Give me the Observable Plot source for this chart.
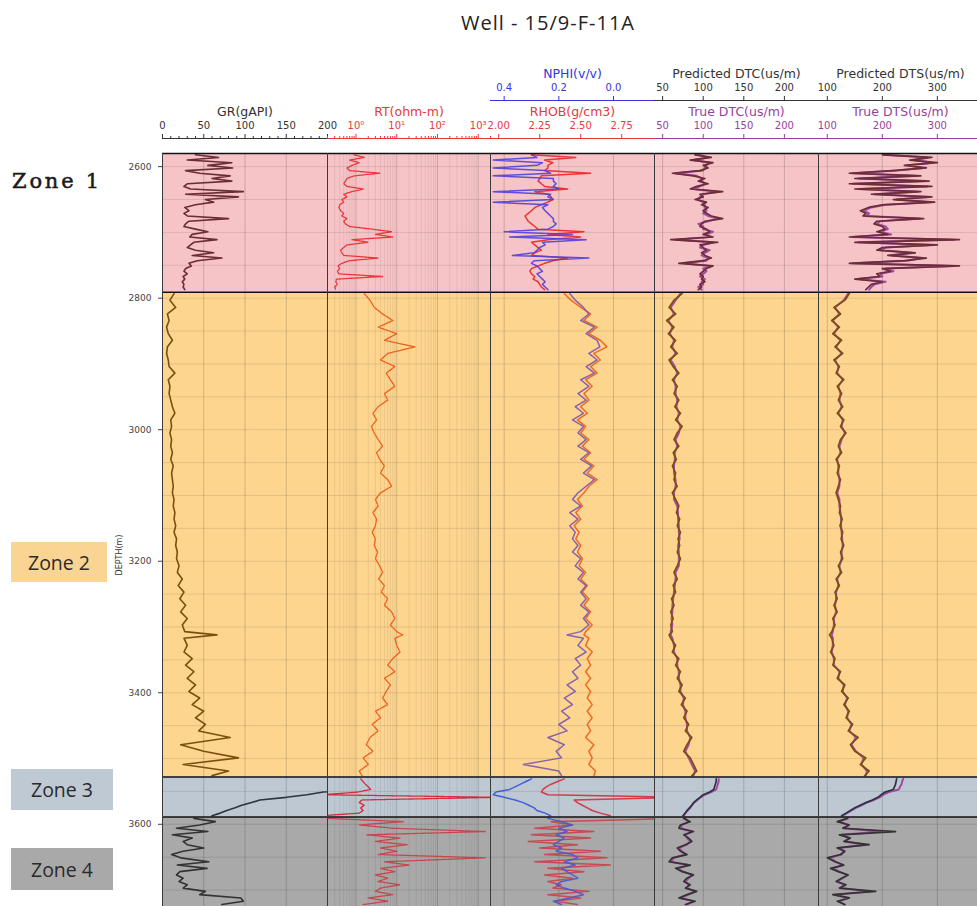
<!DOCTYPE html>
<html>
<head>
<meta charset="utf-8">
<script src="https://cdn.jsdelivr.net/npm/d3@7"></script>
<script src="https://cdn.jsdelivr.net/npm/@observablehq/plot@0.6"></script>
<style>
  html, body { margin: 0; padding: 0; background: #fff; overflow: hidden; }
  #root { position: relative; width: 977px; height: 906px; overflow: hidden; background: #fff; font-family: "DejaVu Sans", sans-serif; }
  .zone-box { position: absolute; display: flex; align-items: center; justify-content: center; font-family: "Open Sans", "Noto Sans", sans-serif; font-size: 19.5px; color: #2a2a2a; }
</style>
</head>
<body>
<div id="root"></div>
<script>
// ---------------- DATA ----------------
const depth = [
  2582,2586,2590,2594,2598,2602,2606,2610,2614,2618,2622,2626,2630,2634,2638,2642,2646,2650,2654,2658,
  2662,2667,2671,2675,2679,2683,2687,2691,2695,2699,2703,2707,2711,2715,2719,2723,2727,2731,2735,2739,
  2743,2747,2751,2755,2759,2763,2767,2771,2775,2779,2783,2787,
  2793,2803,2814,2824,2834,2844,2854,2864,2874,2884,2894,2904,2914,2924,2934,2945,2955,2965,2975,2985,
  2995,3005,3015,3025,3035,3045,3055,3066,3076,3086,3096,3106,3116,3126,3136,3146,3156,3166,3176,3186,
  3196,3207,3217,3227,3237,3247,3257,3267,3277,3287,3297,3307,3312,3317,3328,3338,3348,3358,3368,3378,
  3388,3398,3408,3418,3428,3438,3448,3458,3468,3479,3489,3499,3509,3519,3526,
  3531,3535,3539,3543,3547,3551,3555,3559,3563,3567,3571,3575,3579,3583,3587,
  3591,3596,3601,3606,3611,3616,3621,3626,3631,3636,3641,3646,3651,3657,3662,3667,3672,3677,3682,3687,
  3692,3697,3702,3707,3712,3717,3722
];
const gr = [
  40,68,30,84,55,85,28,45,82,60,84,30,26,34,98,28,92,52,62,40,
  27,32,26,30,80,32,28,26,40,55,36,33,66,38,34,30,40,62,36,72,
  42,32,35,28,26,30,25,27,24,26,25,27,
  14,9,16,6,8,5,7,12,6,5,7,8,15,7,9,8,10,12,15,10,
  11,9,11,10,12,10,13,11,12,13,12,14,13,15,14,16,14,17,16,18,
  17,20,18,24,19,26,21,28,22,30,24,27,66,26,30,26,36,28,38,30,
  40,32,45,36,50,40,52,44,82,22,50,92,25,80,60,
  230,240,235,238,225,195,175,150,118,108,96,88,78,70,60,
  38,64,45,17,55,12,36,25,30,50,25,11,22,56,18,54,21,17,25,20,
  30,25,52,45,95,98,72
];
const rt = [
  0.9,1.6,0.7,1.2,0.8,0.6,0.7,3.8,0.9,0.6,0.55,0.5,0.6,1.5,0.8,0.5,0.6,0.45,0.5,0.4,
  0.38,0.42,0.5,0.45,0.6,0.5,0.55,0.7,2.5,7.5,3.0,8.0,0.8,2.0,0.6,0.5,0.42,0.45,0.5,3.5,
  0.7,0.45,0.36,0.4,0.35,0.38,4.5,0.33,0.32,0.35,0.3,0.32,
  1.6,2.2,2.8,4.5,8,3.5,10,5,28,6,4,9,5.5,7,9,5,6,3.5,2.6,3.2,
  2.4,2.8,3.5,4.5,3.2,3.8,5,4,6,7.5,4,3,3.5,2.6,3.2,3,2.5,3,2.8,3.4,
  3,3.8,4.5,3.6,5,4.2,6,5,7.5,9,7,10,14,9,10,12,8,6,9,5,
  7,5.5,4.5,6,3,4,2.5,3.5,2.2,1.8,2.6,1.5,2,1.2,1.4,
  1.3,1.5,1.7,2.0,2.3,1.1,0.15,3000,1.4,1.2,1.6,1.3,1.5,1.2,0.15,
  0.2,15,1.2,8,1500,1.8,12,3,18,4,10,3.5,1500,5,20,4,9,3,6,3.5,
  12,4,3,8,2,6,1.5
];
const nphi = [
  0.30,0.28,0.44,0.26,0.28,0.44,0.25,0.23,0.44,0.22,0.22,0.21,0.22,0.20,0.44,0.23,0.24,0.22,0.44,0.24,
  0.26,0.25,0.24,0.23,0.22,0.22,0.21,0.22,0.24,0.40,0.15,0.38,0.10,0.26,0.25,0.27,0.28,0.29,0.37,0.09,
  0.29,0.30,0.28,0.27,0.26,0.28,0.27,0.26,0.25,0.26,0.25,0.24,
  0.16,0.14,0.11,0.09,0.12,0.07,0.10,0.06,0.05,0.09,0.06,0.10,0.07,0.12,0.09,0.13,0.10,0.14,0.11,0.15,
  0.11,0.13,0.10,0.13,0.09,0.12,0.08,0.11,0.07,0.10,0.13,0.15,0.12,0.16,0.13,0.16,0.14,0.15,0.13,0.15,
  0.12,0.14,0.11,0.13,0.10,0.12,0.10,0.12,0.09,0.11,0.09,0.12,0.17,0.11,0.13,0.10,0.14,0.12,0.15,0.13,
  0.17,0.14,0.18,0.15,0.19,0.16,0.20,0.17,0.24,0.18,0.21,0.19,0.33,0.20,0.19,
  0.30,0.32,0.34,0.36,0.38,0.43,0.44,0.40,0.36,0.33,0.31,0.29,0.28,0.25,0.23,
  0.24,0.19,0.15,0.20,0.17,0.21,0.18,0.20,0.22,0.19,0.21,0.15,0.13,0.18,0.14,0.19,0.17,0.15,0.13,0.19,
  0.21,0.18,0.14,0.11,0.16,0.22,0.19
];
const rhob = [
  2.20,2.47,2.28,2.33,2.30,2.30,2.28,2.56,2.26,2.25,2.24,2.26,2.28,2.42,2.22,2.30,2.32,2.33,2.30,2.26,
  2.22,2.20,2.18,2.16,2.17,2.18,2.20,2.22,2.24,2.52,2.30,2.50,2.30,2.20,2.22,2.24,2.26,2.22,2.20,2.42,
  2.33,2.28,2.24,2.20,2.19,2.20,2.22,2.21,2.24,2.25,2.26,2.28,
  2.40,2.44,2.50,2.56,2.52,2.60,2.55,2.62,2.66,2.58,2.62,2.56,2.60,2.53,2.57,2.52,2.55,2.50,2.54,2.48,
  2.53,2.50,2.55,2.51,2.56,2.52,2.58,2.54,2.60,2.55,2.52,2.48,2.51,2.47,2.50,2.46,2.49,2.47,2.50,2.48,
  2.51,2.49,2.53,2.50,2.54,2.51,2.55,2.52,2.56,2.53,2.57,2.53,2.52,2.55,2.53,2.57,2.54,2.56,2.53,2.56,
  2.53,2.56,2.54,2.57,2.54,2.57,2.54,2.56,2.53,2.58,2.55,2.57,2.55,2.59,2.58,
  2.40,2.36,2.32,2.29,2.27,2.26,2.30,3.10,2.46,2.48,2.51,2.54,2.57,2.62,2.68,
  3.10,2.32,2.45,2.22,2.58,2.20,2.56,2.18,2.48,2.25,2.62,2.28,2.66,2.22,2.68,2.30,2.52,2.28,2.45,2.30,
  2.38,2.33,2.55,2.30,2.50,2.35,2.48
];
const dtcPred = [
  90,110,84,112,100,106,96,62,88,102,94,106,92,84,124,96,100,90,104,98,
  106,100,104,110,124,102,98,96,104,108,100,112,60,118,96,100,104,98,102,110,
  100,70,112,104,100,96,100,98,102,96,98,94,
  74,64,58,66,55,64,57,66,60,68,58,63,70,62,68,64,70,65,72,66,
  74,68,64,70,63,67,62,66,64,68,62,66,70,67,71,68,72,69,71,68,
  72,68,64,68,63,66,61,64,60,63,60,62,58,60,66,62,70,66,72,68,
  74,70,78,73,80,76,82,78,86,80,76,84,88,92,86,
  116,116,115,114,113,108,100,96,92,88,86,83,80,78,75,
  76,84,72,70,88,76,82,86,78,68,72,80,62,58,84,66,74,88,80,76,
  84,78,92,80,70,90,78
];
const dtcTrue = [
  94,106,88,108,104,102,100,66,92,98,98,102,96,88,118,100,96,94,100,102,
  102,104,100,106,118,106,94,100,100,112,104,108,66,112,100,96,108,102,98,106,
  104,76,108,100,104,100,96,102,98,100,94,98,
  72,66,60,64,57,62,59,64,62,66,60,65,68,64,66,66,68,67,70,68,
  72,70,66,68,65,65,64,64,66,66,64,64,68,69,69,70,70,71,69,70,
  70,70,66,66,65,64,63,62,62,61,62,60,60,62,64,64,68,68,70,70,
  72,72,76,75,78,78,80,80,84,82,78,82,86,90,88,
  119,119,118,117,116,110,102,97,93,89,86,84,81,78,76,
  78,82,74,72,86,78,80,84,80,70,74,78,64,60,82,68,76,86,82,78,
  82,80,90,82,72,88,80
];
const dtsPred = [
  200,290,250,300,240,280,220,140,270,150,285,140,290,150,270,180,290,220,295,200,
  175,160,170,165,275,190,185,200,205,190,210,140,340,150,300,200,190,260,210,280,
  240,140,340,200,215,190,195,150,200,180,175,170,
  140,132,112,124,108,122,110,126,114,128,112,122,116,130,118,126,120,128,118,130,
  124,134,124,120,126,116,122,118,124,120,116,120,124,122,127,123,128,125,130,124,
  128,120,126,116,122,114,118,112,118,110,114,108,104,108,112,106,114,110,124,118,
  132,126,138,130,140,134,146,138,156,142,150,170,160,176,168,
  226,225,224,222,220,205,198,192,182,170,160,150,142,134,126,
  136,118,140,128,224,122,142,130,176,118,132,124,100,114,130,106,120,138,126,116,
  134,122,188,110,140,118,132
];
const dtsTrue = [
  206,282,256,292,246,274,226,146,262,156,278,146,282,156,264,186,284,226,288,206,
  180,166,176,170,268,196,190,206,210,196,216,146,330,156,292,206,196,254,216,272,
  246,146,330,206,220,196,200,156,206,186,180,176,
  138,130,114,122,110,120,112,124,116,126,114,120,118,128,120,124,122,126,120,128,
  126,132,126,122,124,118,120,120,122,122,118,122,122,124,125,125,126,127,128,126,
  126,122,124,118,120,116,116,114,116,112,112,110,108,110,110,108,112,112,122,120,
  130,128,136,132,138,136,144,140,152,144,152,166,162,172,170,
  238,236,235,232,230,212,202,195,185,172,162,152,144,136,128,
  138,122,138,130,200,126,140,132,168,122,130,126,104,116,128,110,122,136,128,118,
  132,124,176,114,138,122,130
];

const zoneNames = ["Zone 1", "Zone 2", "Zone 3", "Zone 4"];
const zoneTop = [2580, 2791, 3528, 3589];
const zoneBase = [2791, 3528, 3589, 3725];
const zoneFill = ["#f6c4c6", "#fdd58f", "#bec8d2", "#a9a9a9"];
const zoneLabelFill = ["#ffffff", "#fad492", "#bfc9d3", "#a9a9a9"];

const grColor = ["#6b2d36", "#7b500f", "#2b3540", "#333333"];
const rtColor = ["#e8363c", "#ef5f1c", "#d42b3e", "#c4474d"];
const rhobColor = ["#ec3434", "#ef6a22", "#d43a48", "#c84a52"];
const nphiColor = ["#5040dc", "#7a55b2", "#3553d8", "#4a58cc"];
const trueColor = "#a24aa4";

const depthTicks = [2600, 2800, 3000, 3200, 3400, 3600];
const grDomain = [0, 200], grTicks = [0, 50, 100, 150, 200], grTickLabels = ["0", "50", "100", "150", "200"];
const grMinor = [10,20,30,40,60,70,80,90,110,120,130,140,160,170,180,190];
const rtDomain = [0.2, 2000], rtTicks = [1, 10, 100, 1000], rtTickLabels = ["10\u2070", "10\u00b9", "10\u00b2", "10\u00b3"];
const rtMinor = [0.2,0.3,0.4,0.5,0.6,0.7,0.8,0.9,2,3,4,5,6,7,8,9,20,30,40,50,60,70,80,90,200,300,400,500,600,700,800,900,2000];
const nphiDomain = [0.45, -0.15], nphiTicks = [0.4, 0.2, 0.0], nphiTickLabels = ["0.4", "0.2", "0.0"];
const rhobDomain = [1.95, 2.95], rhobTicks = [2.0, 2.25, 2.5, 2.75], rhobTickLabels = ["2.00", "2.25", "2.50", "2.75"];
const dtcDomain = [40, 242], dtcTicks = [50, 100, 150, 200], dtcTickLabels = ["50", "100", "150", "200"];
const dtsDomain = [84, 382], dtsTicks = [100, 200, 300], dtsTickLabels = ["100", "200", "300"];

// ---------------- BUILD ----------------
const root = document.getElementById("root");
function place(el, left, top, width) {
  const w = document.createElement("div");
  w.style.position = "absolute";
  w.style.left = left + "px";
  w.style.top = top + "px";
  if (width) w.style.width = width + "px";
  w.appendChild(el);
  root.appendChild(w);
}

const zoneOf = d => { let k = 0; zoneTop.forEach((t, j) => { if (d >= t) k = j; }); return k; };
const rows = depth.map((d, i) => ({
  depth: d, zone: zoneOf(d), gr: gr[i], rt: rt[i], nphi: nphi[i], rhob: rhob[i],
  dtcP: dtcPred[i], dtcT: dtcTrue[i], dtsP: dtsPred[i], dtsT: dtsTrue[i]
}));
const zoneRows = zoneNames.map((n, k) => ({name: n, top: zoneTop[k], base: zoneBase[k], fill: zoneFill[k]}));
const depthGrid = d3.range(2600, 3725, 50);
const nphiToRhob = v => rhobDomain[0] + (v - nphiDomain[0]) / (nphiDomain[1] - nphiDomain[0]) * (rhobDomain[1] - rhobDomain[0]);

const tracks = [[162, 327], [327, 490], [490, 654], [654, 818], [818, 982]];
const TOP = 151, PLOT_H = 755;
const Y_DOMAIN = [zoneTop[0], zoneBase[3]];

function addTrack(i, xOpts, lineMarks, gridVals, gridMinor) {
  const [l, r] = tracks[i];
  const w = r - l;
  const padL = i === 0 ? 60 : 2, padR = 2;
  const dom = xOpts.domain;
  const marks = [
    Plot.rect(zoneRows, {x1: () => dom[0], x2: () => dom[1], y1: "top", y2: "base", fill: "fill"}),
    gridMinor ? Plot.ruleX(gridMinor, {stroke: "#000", strokeOpacity: 0.07}) : null,
    Plot.ruleX(gridVals, {stroke: "#000", strokeOpacity: 0.17}),
    Plot.ruleY(depthGrid, {stroke: "#000", strokeOpacity: 0.1}),
    ...lineMarks,
    Plot.ruleY(zoneTop, {stroke: "#111", strokeWidth: 1.6}),
    Plot.ruleX(dom, {stroke: "#3a3a3a", strokeWidth: 1})
  ].filter(Boolean);
  const svg = Plot.plot({
    width: w + padL + padR, height: PLOT_H,
    marginLeft: padL, marginRight: padR, marginTop: 2, marginBottom: 0,
    style: {background: "transparent", overflow: "visible", fontFamily: "DejaVu Sans", fontSize: "9px", color: "#444"},
    x: {...xOpts, axis: null},
    y: i === 0
      ? {domain: Y_DOMAIN, reverse: true, axis: "left", ticks: depthTicks, tickSize: 4, tickPadding: 7, tickFormat: d => String(d), label: null}
      : {domain: Y_DOMAIN, reverse: true, axis: null},
    color: {type: "identity"},
    marks
  });
  place(svg, l - padL, TOP, w + padL + padR);
}

addTrack(0, {domain: grDomain}, [
  Plot.line(rows, {x: "gr", y: "depth", z: "zone", stroke: d => grColor[d.zone], strokeWidth: 1.6, clip: true})
], [50, 100, 150]);

addTrack(1, {type: "log", domain: rtDomain}, [
  Plot.line(rows, {x: "rt", y: "depth", z: "zone", stroke: d => rtColor[d.zone], strokeWidth: 1.3, strokeDasharray: "2.5,1", clip: true})
], rtTicks, rtMinor);

addTrack(2, {domain: rhobDomain}, [
  Plot.line(rows, {x: "rhob", y: "depth", z: "zone", stroke: d => rhobColor[d.zone], strokeWidth: 1.5, clip: true}),
  Plot.line(rows, {x: d => nphiToRhob(d.nphi), y: "depth", z: "zone", stroke: d => nphiColor[d.zone], strokeWidth: 1.5, strokeOpacity: 0.9, clip: true})
], nphiTicks.map(nphiToRhob));

addTrack(3, {domain: dtcDomain}, [
  Plot.line(rows, {x: "dtcT", y: "depth", z: "zone", stroke: trueColor, strokeWidth: 2, clip: true}),
  Plot.line(rows, {x: "dtcP", y: "depth", z: "zone", stroke: d => grColor[d.zone], strokeWidth: 1.7, clip: true})
], dtcTicks);

addTrack(4, {domain: dtsDomain}, [
  Plot.line(rows, {x: "dtsT", y: "depth", z: "zone", stroke: trueColor, strokeWidth: 2, clip: true}),
  Plot.line(rows, {x: "dtsP", y: "depth", z: "zone", stroke: d => grColor[d.zone], strokeWidth: 1.7, clip: true})
], dtsTicks);

// header axis rows
function addHeader(i, lineY, xOpts, ticks, labels, minor, title, color) {
  const [l, r] = tracks[i];
  const w = r - l, pad = 18;
  const svg = Plot.plot({
    width: w + 2 * pad, height: 44,
    marginLeft: pad, marginRight: pad, marginTop: 38, marginBottom: 2,
    style: {background: "transparent", overflow: "visible", fontFamily: "DejaVu Sans", fontSize: "10px"},
    x: {...xOpts, axis: null},
    y: {domain: [0, 1], axis: null},
    marks: [
      Plot.ruleY([0], {stroke: color, strokeWidth: 1}),
      minor ? Plot.ruleX(minor, {x: d => d, y1: 0, y2: 0.5, stroke: color}) : null,
      Plot.ruleX(ticks, {x: d => d, y1: 0, y2: 1, stroke: color}),
      Plot.text(ticks, {x: d => d, text: (d, j) => labels[j], frameAnchor: "bottom", dy: -13, lineAnchor: "middle", textAnchor: "middle", fill: color}),
      Plot.text([title], {frameAnchor: "bottom", dy: -27, lineAnchor: "middle", textAnchor: "middle", fill: color, fontSize: 12.5})
    ].filter(Boolean)
  });
  place(svg, l - pad, lineY - 42, w + 2 * pad);
}

const LOW = 138, UP = 100;
addHeader(0, LOW, {domain: grDomain}, grTicks, grTickLabels, grMinor, "GR(gAPI)", "#333");
addHeader(1, LOW, {type: "log", domain: rtDomain}, rtTicks, rtTickLabels, rtMinor, "RT(ohm-m)", "#e8383d");
addHeader(2, UP, {domain: nphiDomain}, nphiTicks, nphiTickLabels, null, "NPHI(v/v)", "#3434e0");
addHeader(2, LOW, {domain: rhobDomain}, rhobTicks, rhobTickLabels, null, "RHOB(g/cm3)", "#e8383d");
addHeader(3, UP, {domain: dtcDomain}, dtcTicks, dtcTickLabels, null, "Predicted DTC(us/m)", "#333");
addHeader(3, LOW, {domain: dtcDomain}, dtcTicks, dtcTickLabels, null, "True DTC(us/m)", "#9b3e9b");
addHeader(4, UP, {domain: dtsDomain}, dtsTicks, dtsTickLabels, null, "Predicted DTS(us/m)", "#333");
addHeader(4, LOW, {domain: dtsDomain}, dtsTicks, dtsTickLabels, null, "True DTS(us/m)", "#9b3e9b");

// title
const title = document.createElement("div");
title.textContent = "Well - 15/9-F-11A";
Object.assign(title.style, {position: "absolute", left: "398px", top: "9px", width: "300px", textAlign: "center",
  fontFamily: "'Open Sans', 'Noto Sans', sans-serif", fontSize: "20px", letterSpacing: "1px", color: "#222"});
root.appendChild(title);

// depth label
const dl = document.createElement("div");
dl.textContent = "DEPTH(m)";
Object.assign(dl.style, {position: "absolute", left: "119px", top: "555px", transform: "translate(-50%,-50%) rotate(-90deg)",
  whiteSpace: "nowrap", fontFamily: "DejaVu Sans", fontSize: "8px", color: "#333"});
root.appendChild(dl);

// zone labels
const zoneBoxes = [
  {left: 12, top: 167, w: 100, h: 28},
  {left: 11, top: 542, w: 96, h: 40},
  {left: 11, top: 769, w: 102, h: 41},
  {left: 11, top: 848, w: 102, h: 42}
];
zoneNames.forEach((n, k) => {
  const b = document.createElement("div");
  b.className = "zone-box";
  b.textContent = n;
  Object.assign(b.style, {left: zoneBoxes[k].left + "px", top: zoneBoxes[k].top + "px", width: zoneBoxes[k].w + "px", height: zoneBoxes[k].h + "px", background: zoneLabelFill[k]});
  if (k === 0) Object.assign(b.style, {fontFamily: "'DejaVu Serif', serif", fontSize: "21px", letterSpacing: "2.8px", webkitTextStroke: "0.5px #1a1a1a", justifyContent: "flex-start", color: "#1a1a1a"});
  root.appendChild(b);
});
</script>
</body>
</html>
